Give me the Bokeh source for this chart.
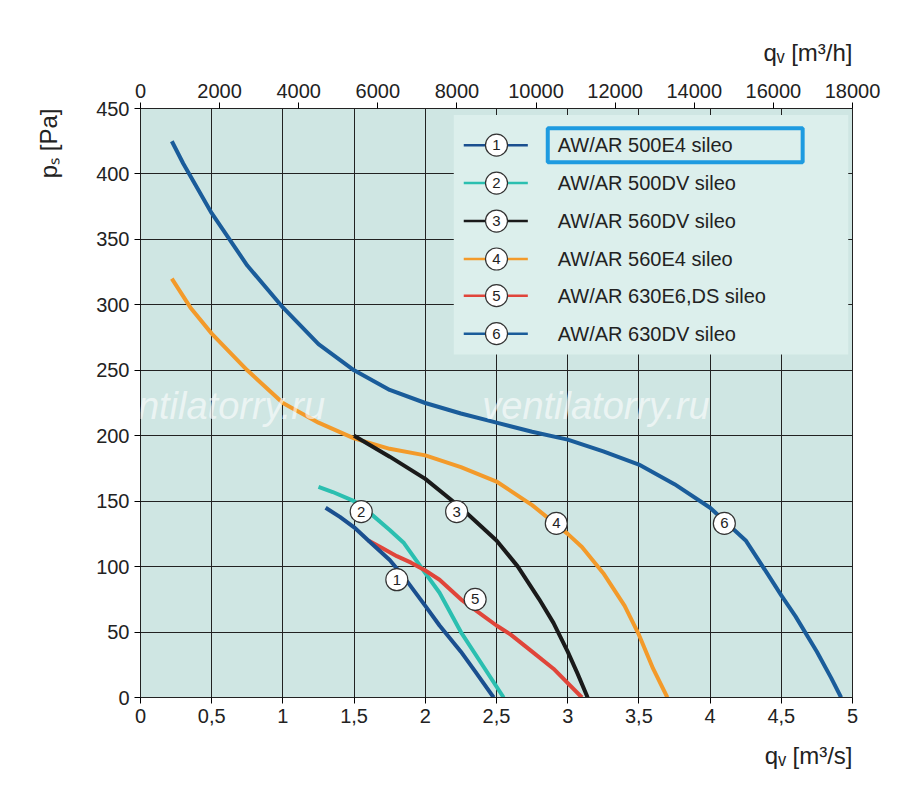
from bokeh.plotting import figure
from bokeh.models import Range1d, LinearAxis, Label, FixedTicker, Title
from bokeh.core.properties import value
from bokeh.embed import file_html
from bokeh.resources import INLINE

c1_q = [1.3, 1.4, 1.5, 1.6, 1.75, 1.85, 2.0, 2.1, 2.25, 2.35, 2.48]
c1_p = [145, 138, 130, 120, 105, 92, 70, 55, 35, 20, 0]
c2_q = [1.25, 1.35, 1.5, 1.6, 1.75, 1.85, 2.0, 2.1, 2.25, 2.4, 2.55]
c2_p = [161, 157, 150, 142, 128, 118, 95, 80, 50, 25, 0]
c3_q = [1.5, 1.75, 2.0, 2.25, 2.5, 2.65, 2.8, 2.9, 3.0, 3.07, 3.14]
c3_p = [200, 184, 167, 145, 120, 100, 75, 57, 35, 18, 0]
c4_q = [0.22, 0.35, 0.5, 0.75, 1.0, 1.25, 1.5, 1.75, 2.0, 2.25, 2.5, 2.75, 3.0, 3.1, 3.25, 3.4, 3.5, 3.6, 3.7]
c4_p = [320, 298, 278, 250, 225, 210, 198, 190, 185, 176, 165, 147, 125, 115, 95, 70, 48, 22, 0]
c5_q = [1.6, 1.7, 1.8, 1.9, 2.0, 2.1, 2.25, 2.4, 2.5, 2.6, 2.75, 2.9, 3.1]
c5_p = [120, 114, 108, 103, 97, 90, 75, 63, 55, 48, 35, 22, 0]
c6_q = [0.22, 0.3, 0.5, 0.75, 1.0, 1.25, 1.5, 1.75, 2.0, 2.25, 2.5, 2.75, 3.0, 3.25, 3.5, 3.75, 4.0, 4.25, 4.4, 4.5, 4.6, 4.75, 4.85, 4.92]
c6_p = [425, 408, 370, 330, 298, 270, 250, 235, 225, 217, 210, 203, 197, 188, 178, 163, 145, 120, 95, 78, 62, 35, 15, 0]
names = ["AW/AR 500E4 sileo", "AW/AR 500DV sileo", "AW/AR 560DV sileo",
         "AW/AR 560E4 sileo", "AW/AR 630E6,DS sileo", "AW/AR 630DV sileo"]
colors = ["#1a4f8f", "#2bbfb0", "#1a1a1a", "#f39a2a", "#e0453a", "#1a5c9a"]
tag_q = [1.8, 1.55, 2.22, 2.92, 2.35, 4.1]
tag_p = [90, 142, 142, 133, 75, 133]
x_ticks = [0, 0.5, 1, 1.5, 2, 2.5, 3, 3.5, 4, 4.5, 5]
x_labels = ["0", "0,5", "1", "1,5", "2", "2,5", "3", "3,5", "4", "4,5", "5"]
top_ticks = list(range(0, 18001, 2000))
y_ticks = list(range(0, 451, 50))

FONT = "Liberation Sans"
p = figure(width=884, height=790, output_backend="svg", toolbar_location=None,
           x_range=Range1d(0, 5), y_range=Range1d(0, 450),
           min_border_left=138, min_border_right=32, min_border_top=108, min_border_bottom=93)
p.background_fill_color = "#cfe6e3"
p.border_fill_color = "white"
p.outline_line_color = "#222222"
p.xgrid.ticker = FixedTicker(ticks=x_ticks)
p.ygrid.ticker = FixedTicker(ticks=y_ticks)
for g in (p.xgrid, p.ygrid):
    g.grid_line_color = "#222222"
    g.grid_line_width = 1

p.extra_x_ranges = {"mh": Range1d(0, 18000)}
top = LinearAxis(x_range_name="mh", ticker=FixedTicker(ticks=top_ticks))
p.add_layout(top, "above")
p.below[0].ticker = FixedTicker(ticks=x_ticks)
p.below[0].major_label_overrides = {t: l for t, l in zip(x_ticks, x_labels)}
p.yaxis.ticker = FixedTicker(ticks=y_ticks)
for ax in p.xaxis + p.yaxis:
    ax.major_label_text_font = FONT
    ax.major_label_text_font_size = "20px"
    ax.major_label_text_color = "#222222"
    ax.minor_tick_line_color = None
    ax.major_tick_out = 6
    ax.major_tick_in = 0
    ax.axis_line_color = "#222222"

for txt, place, so in [("qᵥ [m³/s]", "below", 28), ("qᵥ [m³/h]", "above", 30), ("pₛ [Pa]", "left", 64)]:
    p.add_layout(Title(text=txt, align="right", text_font=FONT, text_font_size="24px",
                       text_font_style="normal", text_color="#222222", standoff=so), place)

p.quad(left=2.2, right=4.97, bottom=262, top=445, fill_color="#dcefec", line_color=None)

for q, v, c in [(c6_q, c6_p, colors[5]), (c4_q, c4_p, colors[3]), (c3_q, c3_p, colors[2]),
                (c2_q, c2_p, colors[1]), (c5_q, c5_p, colors[4]), (c1_q, c1_p, colors[0])]:
    p.line(q, v, line_color=c, line_width=4, line_join="round")

p.scatter(tag_q, tag_p, size=22, fill_color="white", line_color="#333333", line_width=1.2)
p.text(tag_q, tag_p, text=[str(i + 1) for i in range(6)], text_align="center",
       text_baseline="middle", text_font=value(FONT), text_font_size="15px", text_color="#222222")

leg_y = [422, 393, 364, 335, 307, 278]
for i, y in enumerate(leg_y):
    p.line([2.27, 2.72], [y, y], line_color=colors[i], line_width=2.5)
p.scatter([2.5] * 6, leg_y, size=22, fill_color="white", line_color="#333333", line_width=1.2)
p.text([2.5] * 6, leg_y, text=[str(i + 1) for i in range(6)], text_align="center",
       text_baseline="middle", text_font=value(FONT), text_font_size="15px", text_color="#222222")
p.text([2.93] * 6, leg_y, text=names, text_baseline="middle", text_font=value(FONT),
       text_font_size="20px", text_color="#222222")
p.quad(left=[2.86], right=[4.65], bottom=[409], top=[435], fill_color=None,
       line_color="#1e9be0", line_width=4)

for wx in (-0.3, 2.4):
    p.add_layout(Label(x=wx, y=223, text="ventilatorry.ru", text_font=FONT,
                       text_font_style="italic", text_font_size="38px",
                       text_color="white", text_alpha=0.6, text_baseline="middle"))

open("out.html", "w").write(file_html(p, INLINE))
